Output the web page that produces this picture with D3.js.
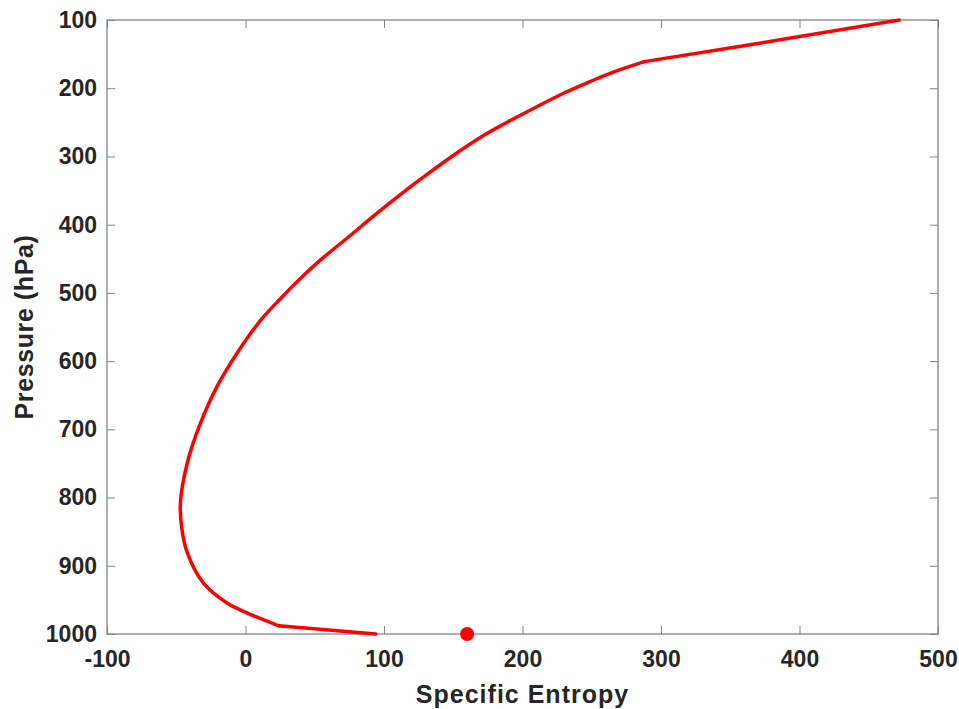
<!DOCTYPE html>
<html><head><meta charset="utf-8">
<script src="https://cdn.jsdelivr.net/npm/d3@7"></script>
<style>body{margin:0;background:#fff}svg{display:block}</style>
</head><body>
<svg id="c" width="959" height="709"></svg>
<script>
const pressure = [100,137,161,176,190,207,237,268,300,322,354,383,417,452,481,510,540,588,637,691,749,808,845,881,925,955,969,988,1000];
const entropy  = [472,362,288,266,249,230,201,173,149,134,113,95,75,54,38.5,24.5,11,-6,-20.5,-32.5,-42,-47,-46,-42,-30.5,-13,1,24,94];
const markerPoint = [{x:160, p:1000}];
const xTicks = [-100,0,100,200,300,400,500];
const yTicks = [100,200,300,400,500,600,700,800,900,1000];

const svg = d3.select('#c');
const m = {l:107, t:20, r:938, b:634};
const x = d3.scaleLinear().domain([-100,500]).range([m.l,m.r]);
const y = d3.scaleLinear().domain([100,1000]).range([m.t,m.b]);
const axisCol = '#858585', txtCol = '#262626';
const font = '"Liberation Sans", Arial, sans-serif';
const fmt = d => String(d);

function styleAxis(g){
  g.select('.domain').remove();
  g.selectAll('.tick line').attr('stroke',axisCol).attr('stroke-width',1);
  g.selectAll('.tick text').attr('fill',txtCol).style('font-family',font).style('font-size','23px').style('font-weight','bold');
}
svg.append('g').attr('transform',`translate(0,${m.b})`)
  .call(d3.axisBottom(x).tickValues(xTicks).tickSize(-8).tickPadding(17).tickFormat(fmt))
  .call(styleAxis);
svg.append('g').attr('transform',`translate(0,${m.t})`)
  .call(d3.axisTop(x).tickValues(xTicks).tickSize(-8).tickFormat(''))
  .call(styleAxis);
svg.append('g').attr('transform',`translate(${m.l},0)`)
  .call(d3.axisLeft(y).tickValues(yTicks).tickSize(-8).tickPadding(10).tickFormat(fmt))
  .call(styleAxis);
svg.append('g').attr('transform',`translate(${m.r},0)`)
  .call(d3.axisRight(y).tickValues(yTicks).tickSize(-8).tickFormat(''))
  .call(styleAxis);
svg.append('rect').attr('x',m.l).attr('y',m.t).attr('width',m.r-m.l).attr('height',m.b-m.t)
  .attr('fill','none').attr('stroke',axisCol).attr('stroke-width',1.3);

const data = pressure.map((p,i)=>({p, v:entropy[i]}));
const i161 = pressure.indexOf(161), i988 = pressure.indexOf(988);
const pieces = [
  {d:data.slice(0,i161+1), c:d3.curveLinear},
  {d:data.slice(i161,i988+1), c:d3.curveCatmullRom.alpha(0.5)},
  {d:data.slice(i988), c:d3.curveLinear}
];
svg.selectAll('.ln').data(pieces).enter().append('path')
  .attr('d', pc => d3.line().x(d=>x(d.v)).y(d=>y(d.p)).curve(pc.c)(pc.d))
  .attr('fill','none').attr('stroke','#ff0000').attr('stroke-width',3.5)
  .attr('stroke-linejoin','round').attr('stroke-linecap','round');

svg.selectAll('.mk').data(markerPoint).enter().append('circle')
  .attr('cx',d=>x(d.x)).attr('cy',d=>y(d.p)).attr('r',7).attr('fill','#ff0000');

svg.append('text').attr('x',(m.l+m.r)/2).attr('y',703).attr('text-anchor','middle')
  .attr('fill',txtCol).style('font-family',font).style('font-size','25px').style('font-weight','bold')
  .style('letter-spacing','1px').text('Specific Entropy');
svg.append('text').attr('transform',`translate(33,${(m.t+m.b)/2}) rotate(-90)`).attr('text-anchor','middle')
  .attr('fill',txtCol).style('font-family',font).style('font-size','25px').style('font-weight','bold')
  .style('letter-spacing','0.6px').text('Pressure (hPa)');
</script>
</body></html>
